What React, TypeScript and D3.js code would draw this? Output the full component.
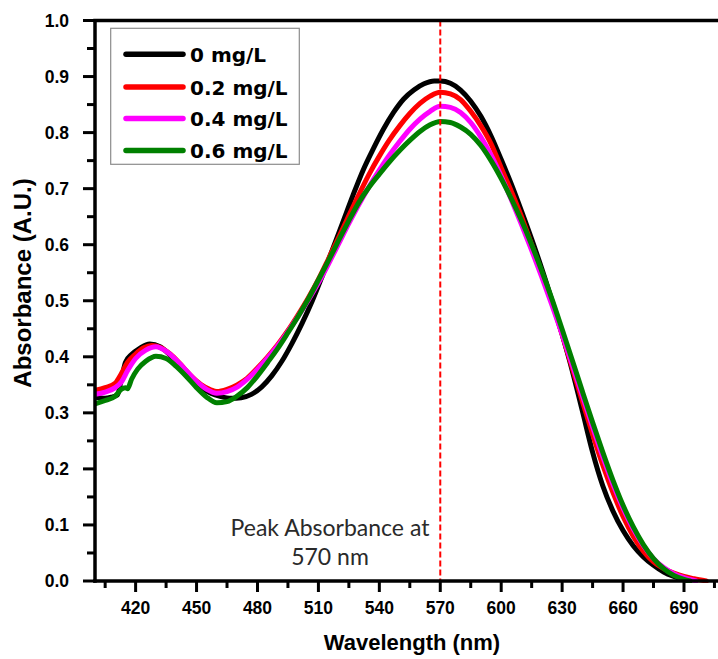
import React from "react";
import * as d3 from "d3";

// ---------- data ----------
const seriesNames = ["0 mg/L", "0.2 mg/L", "0.4 mg/L", "0.6 mg/L"];
const seriesColors = ["#000000", "#ff0000", "#ff00ff", "#008000"];

const blackWl = [400, 405, 408, 411, 413, 415, 418, 422, 427, 432, 437, 442, 447, 452, 457, 462, 467, 472, 477, 482, 487, 492, 497, 502, 507, 512, 517, 522, 527, 532, 537, 542, 547, 552, 557, 562, 567, 570, 575, 580, 585, 590, 595, 600, 605, 610, 615, 620, 625, 630, 635, 640, 645, 650, 655, 660, 665, 670, 675, 680, 685, 690, 693];
const blackAbs = [0.328, 0.326, 0.328, 0.332, 0.36, 0.39, 0.404, 0.415, 0.423, 0.418, 0.403, 0.383, 0.362, 0.346, 0.335, 0.329, 0.326, 0.327, 0.333, 0.346, 0.366, 0.392, 0.424, 0.46, 0.5, 0.545, 0.592, 0.64, 0.688, 0.733, 0.771, 0.806, 0.836, 0.86, 0.876, 0.887, 0.892, 0.892, 0.888, 0.876, 0.856, 0.829, 0.794, 0.752, 0.708, 0.66, 0.61, 0.557, 0.5, 0.44, 0.375, 0.303, 0.23, 0.17, 0.125, 0.09, 0.063, 0.043, 0.028, 0.016, 0.008, 0.002, 0.0];

const redWl = [400, 405, 410, 413, 416, 420, 424, 428, 432, 437, 442, 447, 452, 457, 460, 465, 470, 475, 480, 485, 490, 495, 500, 505, 510, 515, 520, 525, 530, 535, 540, 545, 550, 555, 560, 565, 570, 575, 580, 585, 590, 595, 600, 605, 610, 615, 620, 625, 630, 635, 640, 645, 650, 655, 660, 665, 670, 675, 680, 685, 690, 695, 701];
const redAbs = [0.34, 0.345, 0.353, 0.37, 0.39, 0.405, 0.416, 0.42, 0.417, 0.405, 0.387, 0.367, 0.351, 0.341, 0.338, 0.342, 0.35, 0.362, 0.38, 0.4, 0.422, 0.447, 0.475, 0.505, 0.538, 0.575, 0.613, 0.652, 0.69, 0.726, 0.758, 0.787, 0.812, 0.834, 0.852, 0.865, 0.872, 0.869, 0.859, 0.838, 0.812, 0.78, 0.737, 0.695, 0.65, 0.6, 0.55, 0.497, 0.44, 0.38, 0.32, 0.262, 0.207, 0.158, 0.115, 0.08, 0.053, 0.034, 0.022, 0.014, 0.008, 0.004, 0.0];

const magentaWl = [400, 405, 410, 413, 416, 420, 425, 430, 435, 440, 445, 450, 455, 460, 465, 470, 475, 480, 485, 490, 495, 500, 505, 510, 515, 520, 525, 530, 535, 540, 545, 550, 555, 560, 565, 570, 575, 580, 585, 590, 595, 600, 605, 610, 615, 620, 625, 630, 635, 640, 645, 650, 655, 660, 665, 670, 675, 680, 685, 690, 696];
const magentaAbs = [0.333, 0.337, 0.345, 0.355, 0.375, 0.397, 0.412, 0.418, 0.41, 0.394, 0.375, 0.356, 0.342, 0.335, 0.338, 0.346, 0.36, 0.378, 0.398, 0.42, 0.445, 0.472, 0.501, 0.532, 0.566, 0.602, 0.638, 0.672, 0.704, 0.733, 0.76, 0.784, 0.806, 0.824, 0.838, 0.847, 0.845, 0.836, 0.818, 0.792, 0.76, 0.722, 0.68, 0.636, 0.59, 0.542, 0.492, 0.44, 0.385, 0.33, 0.275, 0.222, 0.173, 0.13, 0.093, 0.063, 0.04, 0.024, 0.013, 0.006, 0.0];

const greenWl = [400, 405, 410, 413, 415, 416, 418, 421, 425, 430, 435, 440, 445, 450, 455, 460, 465, 470, 475, 480, 485, 490, 495, 500, 505, 510, 515, 520, 525, 530, 535, 540, 545, 550, 555, 560, 565, 570, 575, 580, 585, 590, 595, 600, 605, 610, 615, 620, 625, 630, 635, 640, 645, 650, 655, 660, 665, 670, 675, 680, 685, 690, 693];
const greenAbs = [0.316, 0.322, 0.33, 0.342, 0.345, 0.343, 0.36, 0.378, 0.392, 0.401, 0.397, 0.383, 0.365, 0.345, 0.328, 0.318, 0.32, 0.33, 0.345, 0.366, 0.39, 0.415, 0.443, 0.472, 0.503, 0.537, 0.572, 0.608, 0.643, 0.676, 0.703, 0.726, 0.748, 0.768, 0.786, 0.802, 0.814, 0.82, 0.818, 0.81, 0.797, 0.777, 0.75, 0.718, 0.682, 0.643, 0.6, 0.553, 0.503, 0.449, 0.394, 0.338, 0.283, 0.23, 0.18, 0.135, 0.097, 0.065, 0.04, 0.022, 0.01, 0.003, 0.0];

const xTickValues = [420, 450, 480, 510, 540, 570, 600, 630, 660, 690];
const xMinorTicks = [405, 435, 465, 495, 525, 555, 585, 615, 645, 675, 705];
const yTickValues = [0, 0.1, 0.2, 0.3, 0.4, 0.5, 0.6, 0.7, 0.8, 0.9, 1.0];
const yMinorTicks = [0.05, 0.15, 0.25, 0.35, 0.45, 0.55, 0.65, 0.75, 0.85, 0.95];
const peakWavelength = 570;
const annotationLines = ["Peak Absorbance at", "570 nm"];

const allWl = [blackWl, redWl, magentaWl, greenWl];
const allAbs = [blackAbs, redAbs, magentaAbs, greenAbs];

// ---------- layout ----------
const W = 718;
const H = 659;
const left = 95;
const top = 20.5;
const bottom = 581;
const x = d3.scaleLinear().domain([400, 710]).range([left, left + 310 * 2.031]);
const y = d3.scaleLinear().domain([0, 1]).range([bottom, top]);

const tickFont = "'Liberation Sans', Arial, sans-serif";
const legendFont = "'DejaVu Sans', Verdana, sans-serif";

export default function App() {
  const line = d3
    .line<[number, number]>()
    .x((d) => x(d[0]))
    .y((d) => y(d[1]))
    .curve(d3.curveMonotoneX);

  const legendY = [54.3, 87, 118.5, 150.5];

  return (
    <svg
      width={W}
      height={H}
      style={{ position: "absolute", left: 0, top: 0, background: "#fff" }}
    >
      <rect x={0} y={0} width={W} height={H} fill="#fff" />
      <defs>
        <clipPath id="plotclip">
          <rect x={left} y={0} width={W - left} height={bottom + 2} />
        </clipPath>
      </defs>

      {/* curves */}
      <g clipPath="url(#plotclip)">
        {allWl.map((wl, i) => {
          const pts = wl.map((w, j) => [w, allAbs[i][j]] as [number, number]);
          return (
            <path
              key={i}
              d={line(pts) || ""}
              fill="none"
              stroke={seriesColors[i]}
              strokeWidth={5}
              strokeLinejoin="round"
              strokeLinecap="round"
            />
          );
        })}
      </g>

      {/* peak line */}
      <line
        x1={x(peakWavelength)}
        x2={x(peakWavelength)}
        y1={top}
        y2={bottom}
        stroke="#ff0000"
        strokeWidth={2}
        strokeDasharray="6,3"
      />

      {/* annotation */}
      {annotationLines.map((t, i) => (
        <text
          key={i}
          x={330}
          y={536 + i * 29}
          textAnchor="middle"
          fontFamily="Lato, 'Open Sans', sans-serif"
          fontSize={23}
          fill="#2a2a2a"
        >
          {t}
        </text>
      ))}

      {/* axes */}
      <line x1={left} x2={left} y1={top - 1.5} y2={bottom + 1.75} stroke="#000" strokeWidth={3.5} />
      <line x1={left - 1.75} x2={W} y1={bottom} y2={bottom} stroke="#000" strokeWidth={3.5} />
      <line x1={left - 1.75} x2={W} y1={top} y2={top} stroke="#000" strokeWidth={3.5} />

      {/* y ticks */}
      {yTickValues.map((v) => (
        <g key={"y" + v}>
          <line x1={left - 12} x2={left} y1={y(v)} y2={y(v)} stroke="#000" strokeWidth={3} />
          <text
            x={69}
            y={y(v) + 6}
            textAnchor="end"
            fontFamily={tickFont}
            fontWeight="bold"
            fontSize={17.5}
            fill="#000"
          >
            {v.toFixed(1)}
          </text>
        </g>
      ))}
      {yMinorTicks.map((v) => (
        <line key={"ym" + v} x1={left - 8} x2={left} y1={y(v)} y2={y(v)} stroke="#000" strokeWidth={3} />
      ))}

      {/* x ticks */}
      {xTickValues.map((v) => (
        <g key={"x" + v}>
          <line x1={x(v)} x2={x(v)} y1={bottom} y2={bottom + 11} stroke="#000" strokeWidth={3} />
          <text
            x={x(v)}
            y={614}
            textAnchor="middle"
            fontFamily={tickFont}
            fontWeight="bold"
            fontSize={17.5}
            fill="#000"
          >
            {v}
          </text>
        </g>
      ))}
      {xMinorTicks.map((v) => (
        <line key={"xm" + v} x1={x(v)} x2={x(v)} y1={bottom} y2={bottom + 7} stroke="#000" strokeWidth={3} />
      ))}

      {/* axis titles */}
      <text
        x={412}
        y={650}
        textAnchor="middle"
        fontFamily={tickFont}
        fontWeight="bold"
        fontSize={22}
        fill="#000"
      >
        Wavelength (nm)
      </text>
      <text
        transform={`translate(31, 283) rotate(-90)`}
        textAnchor="middle"
        fontFamily={tickFont}
        fontWeight="bold"
        fontSize={24}
        fill="#000"
      >
        Absorbance (A.U.)
      </text>

      {/* legend */}
      <rect x={110.7} y={28.3} width={188.6} height={136} fill="#fff" stroke="#8c8c8c" strokeWidth={1.2} />
      {seriesNames.map((n, i) => (
        <g key={n}>
          <line
            x1={126}
            x2={183}
            y1={legendY[i]}
            y2={legendY[i]}
            stroke={seriesColors[i]}
            strokeWidth={5.5}
            strokeLinecap="round"
          />
          <text
            x={190}
            y={legendY[i] + 7.5}
            fontFamily={legendFont}
            fontWeight="bold"
            fontSize={20}
            fill="#000"
          >
            {n}
          </text>
        </g>
      ))}
    </svg>
  );
}
